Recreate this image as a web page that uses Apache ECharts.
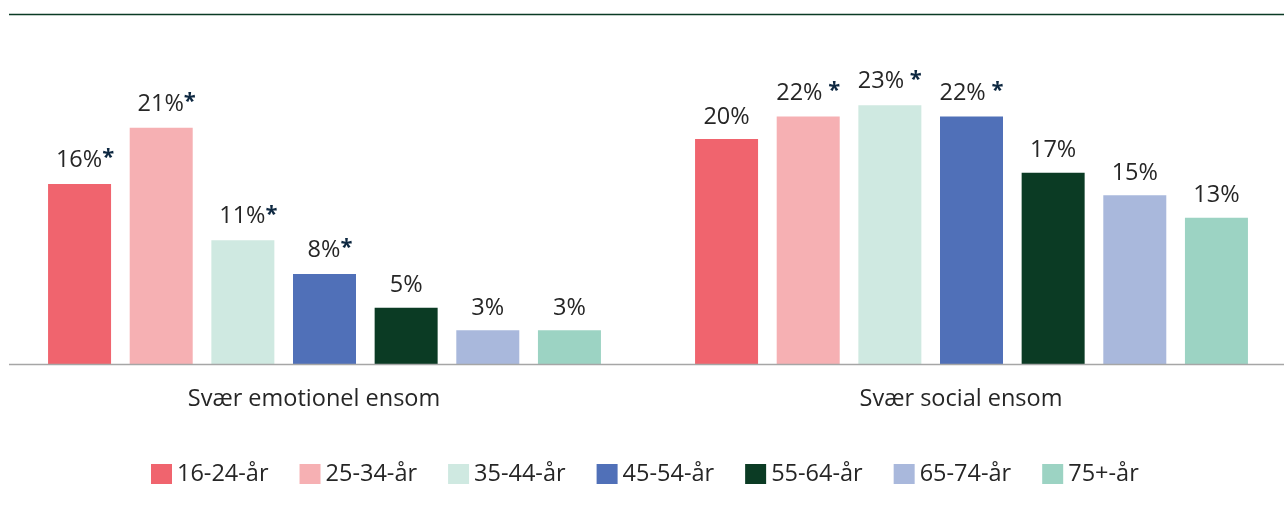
<!DOCTYPE html>
<html>
<head>
<meta charset="utf-8">
<script src="https://cdn.jsdelivr.net/npm/echarts@6/dist/echarts.min.js"></script>
<style>
  html, body { margin: 0; padding: 0; background: #fff; }
  #chart { width: 1284px; height: 507px; }
</style>
</head>
<body>
<div id="chart"></div>
<script>
// data
const categories = ["Svær emotionel ensom", "Svær social ensom"];
const ageGroups = ["16-24-år", "25-34-år", "35-44-år", "45-54-år", "55-64-år", "65-74-år", "75+-år"];
const emotionel = [16, 21, 11, 8, 5, 3, 3];
const social = [20, 22, 23, 22, 17, 15, 13];
// significance marks shown after the value
const emotionelStar = ["*", "*", "*", "*", "", "", ""];
const socialStar = ["", " *", " *", " *", "", "", ""];
const colors = ["#F0646E", "#F6B0B3", "#CFE9E1", "#5070B8", "#0B3B24", "#A9B8DC", "#9CD3C3"];

const font = "'Open Sans', 'Noto Sans', sans-serif";
const stars = [emotionelStar, socialStar];

const series = ageGroups.map(function (name, i) {
  return {
    name: name,
    type: "bar",
    barWidth: 63,
    barGap: "29.6%",
    itemStyle: { color: colors[i] },
    data: [emotionel[i], social[i]],
    label: {
      show: true,
      position: "top",
      distance: 10,
      fontFamily: font,
      fontSize: 23.5,
      color: "#262626",
      formatter: function (p) {
        const s = stars[p.dataIndex][i];
        if (!s) return p.value + "%";
        // a star glued to the number hangs to the right of the centred value
        const v = s === "*" ? "{vp|" + p.value + "%}" : "{v|" + p.value + "%}";
        return v + "{s|" + s + "}";
      },
      rich: {
        v: { fontFamily: font, fontSize: 23.5, color: "#262626" },
        vp: { fontFamily: font, fontSize: 23.5, color: "#262626", padding: [0, 0, 0, 11] },
        s: {
          fontFamily: font,
          fontSize: 22,
          fontWeight: "bold",
          color: "#0E2841",
          verticalAlign: "top",
          padding: [0, 0, 5, 0]
        }
      }
    }
  };
});

const myChart = echarts.init(document.getElementById("chart"));
myChart.setOption({
  animation: false,
  backgroundColor: "#fff",
  grid: { left: 1, width: 1294, top: 26.5, bottom: 143, containLabel: false, outerBoundsMode: "none" },
  xAxis: {
    type: "category",
    data: categories,
    axisLine: { show: false },
    axisTick: { show: false },
    axisLabel: {
      margin: 23,
      fontFamily: font,
      fontSize: 23.5,
      color: "#262626",
      padding: [0, 21, 0, 0]
    }
  },
  yAxis: {
    type: "value",
    min: 0,
    max: 30,
    show: false,
    splitLine: { show: false }
  },
  legend: {
    data: ageGroups,
    left: 151,
    top: 462,
    padding: 0,
    itemWidth: 21,
    itemHeight: 20,
    itemGap: 31,
    icon: "rect",
    textStyle: { fontFamily: font, fontSize: 23.5, color: "#262626", width: 92 }
  },
  graphic: [
    {
      type: "line",
      shape: { x1: 9, y1: 14.5, x2: 1284, y2: 14.5 },
      style: { stroke: "#0B3B24", lineWidth: 1.5 }
    },
    {
      type: "line",
      z: 10,
      shape: { x1: 9, y1: 364.5, x2: 1284, y2: 364.5 },
      style: { stroke: "#A6A6A6", lineWidth: 1.5 }
    }
  ],
  series: series
});
</script>
</body>
</html>
